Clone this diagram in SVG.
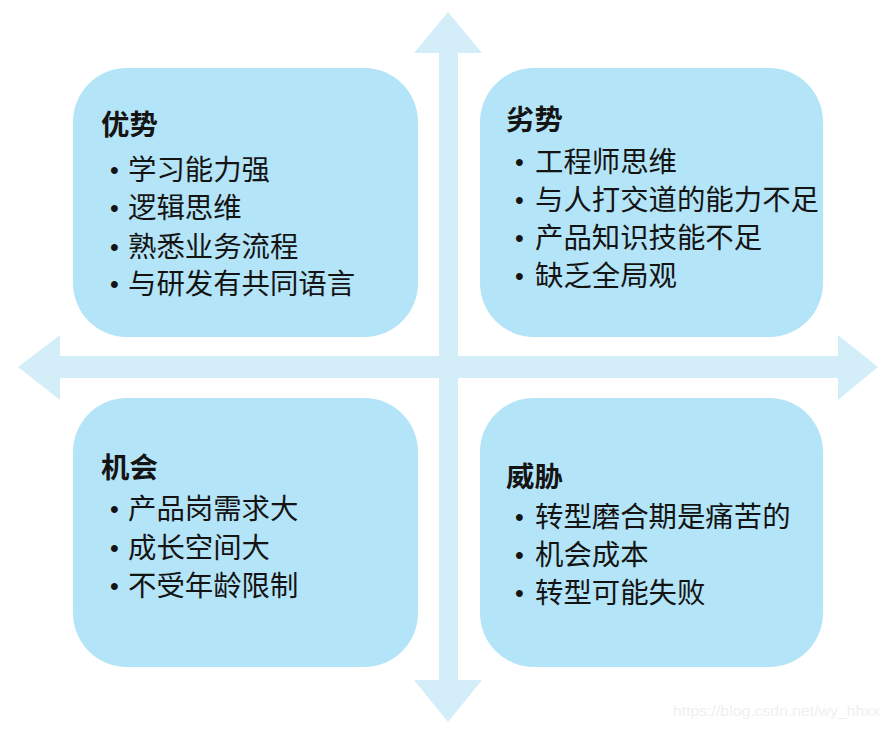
<svg xmlns="http://www.w3.org/2000/svg" width="890" height="729" viewBox="0 0 890 729">
<style>
.box{fill:#b4e4f7}
.arr{fill:#d4eef9}
.t{font-family:"Noto Sans CJK SC","Noto Sans",sans-serif;font-size:28.4px;fill:#141414}
.h{font-weight:bold}
.b{font-family:"Liberation Sans",sans-serif;font-size:25px}
.wm{font-family:"Liberation Sans",Arial,sans-serif;font-size:15.5px;fill:#f0f0f0}
</style>
<rect width="890" height="729" fill="#ffffff"/>
<g id="connectors">
<polygon class="arr" points="448,12 482,53 458,53 458,680 482,680 448,722 414,680 439,680 439,53 414,53"/>
<polygon class="arr" points="18,367 60,335 60,356 838,356 838,335 878,367 838,400 838,378 60,378 60,400"/>
</g>
<g id="strengths">
<rect class="box" x="73" y="68" width="345" height="269" rx="54"/>
<text class="t h" x="101" y="135">优势</text>
<text class="t"><tspan class="b" x="110" y="179">•</tspan><tspan x="128" y="180">学习能力强</tspan></text>
<text class="t"><tspan class="b" x="110" y="217">•</tspan><tspan x="128" y="218">逻辑思维</tspan></text>
<text class="t"><tspan class="b" x="110" y="256">•</tspan><tspan x="128" y="257">熟悉业务流程</tspan></text>
<text class="t"><tspan class="b" x="110" y="293">•</tspan><tspan x="128" y="294">与研发有共同语言</tspan></text>
</g>
<g id="weaknesses">
<rect class="box" x="480" y="68" width="343" height="269" rx="54"/>
<text class="t h" x="506" y="130">劣势</text>
<text class="t"><tspan class="b" x="515" y="171">•</tspan><tspan x="535" y="172">工程师思维</tspan></text>
<text class="t"><tspan class="b" x="515" y="209">•</tspan><tspan x="535" y="210">与人打交道的能力不足</tspan></text>
<text class="t"><tspan class="b" x="515" y="247">•</tspan><tspan x="535" y="248">产品知识技能不足</tspan></text>
<text class="t"><tspan class="b" x="515" y="285">•</tspan><tspan x="535" y="286">缺乏全局观</tspan></text>
</g>
<g id="opportunities">
<rect class="box" x="73" y="398" width="345" height="269" rx="54"/>
<text class="t h" x="101" y="478">机会</text>
<text class="t"><tspan class="b" x="110" y="518">•</tspan><tspan x="128" y="519">产品岗需求大</tspan></text>
<text class="t"><tspan class="b" x="110" y="557">•</tspan><tspan x="128" y="558">成长空间大</tspan></text>
<text class="t"><tspan class="b" x="110" y="595">•</tspan><tspan x="128" y="596">不受年龄限制</tspan></text>
</g>
<g id="threats">
<rect class="box" x="480" y="398" width="343" height="269" rx="54"/>
<text class="t h" x="506" y="487">威胁</text>
<text class="t"><tspan class="b" x="515" y="526">•</tspan><tspan x="535" y="527">转型磨合期是痛苦的</tspan></text>
<text class="t"><tspan class="b" x="515" y="564">•</tspan><tspan x="535" y="565">机会成本</tspan></text>
<text class="t"><tspan class="b" x="515" y="602">•</tspan><tspan x="535" y="603">转型可能失败</tspan></text>
</g>
<text class="wm" x="673" y="716" textLength="207" lengthAdjust="spacingAndGlyphs">https://blog.csdn.net/wy_hhxx</text>
</svg>
